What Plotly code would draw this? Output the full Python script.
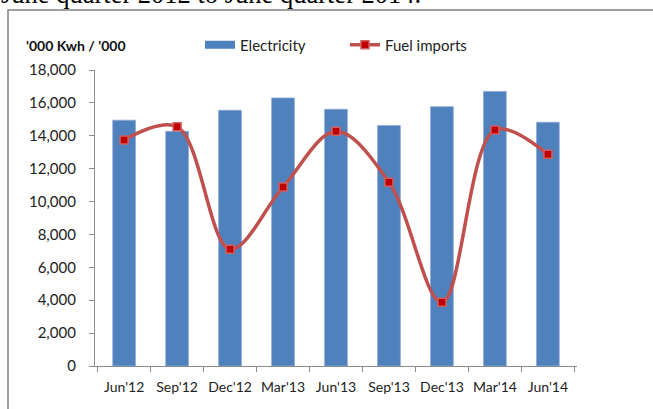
import plotly.graph_objects as go

categories = ["Jun'12", "Sep'12", "Dec'12", "Mar'13", "Jun'13", "Sep'13", "Dec'13", "Mar'14", "Jun'14"]
electricity = [14950, 14270, 15550, 16300, 15610, 14620, 15770, 16700, 14820]
fuel_imports = [13750, 14550, 7100, 10880, 14270, 11170, 3870, 14350, 12870]
y_ticks = [0, 2000, 4000, 6000, 8000, 10000, 12000, 14000, 16000, 18000]

W, H = 653, 409
L, R, T, B = 95, 76, 70, 43
PW, PH = W - L - R, H - T - B


def px(x):
    return (x - L) / PW


def py(y):
    return (H - B - y) / PH


font_main = "Lato, 'Open Sans', sans-serif"
blue = "#4F81BD"

fig = go.Figure()
fig.add_trace(go.Bar(
    x=categories, y=electricity, name="Electricity", showlegend=False,
    legendgroup="elec",
    marker=dict(color=blue, line=dict(color="#8EAADB", width=0.8)),
    width=0.43,
))
# legend entry for bars (wide rectangle like the original)
fig.add_trace(go.Scatter(
    x=[None], y=[None], mode="lines", name="Electricity", legendgroup="elec",
    line=dict(color=blue, width=8),
))
fig.add_trace(go.Scatter(
    x=categories, y=fuel_imports, name="Fuel imports", mode="lines+markers",
    line=dict(color="#C0504D", width=3.5, shape="spline", smoothing=1.0),
    marker=dict(symbol="square", size=8, color="#C00000", line=dict(color="#D06060", width=1.5)),
))

fig.update_layout(
    width=W, height=H,
    margin=dict(l=L, r=R, t=T, b=B, autoexpand=False),
    paper_bgcolor="white", plot_bgcolor="white",
    font=dict(family=font_main, size=15, color="#222"),
    showlegend=True,
    legend=dict(orientation="h", x=px(200), y=py(45), xanchor="left", yanchor="middle",
                font=dict(size=15, color="#222"), bgcolor="rgba(0,0,0,0)",
                entrywidth=100, traceorder="normal"),
    xaxis=dict(
        showline=True, linecolor="#8c8c8c", linewidth=1.2,
        ticks="outside", ticklen=5, tickcolor="#8c8c8c", tickson="boundaries",
        tickangle=0, ticklabelstandoff=8,
        showgrid=False, tickfont=dict(size=14, color="#222"),
    ),
    yaxis=dict(
        range=[0, 18000], tickvals=y_ticks, tickformat=",d",
        showline=True, linecolor="#8c8c8c", linewidth=1.2,
        ticks="outside", ticklen=5, tickcolor="#8c8c8c", ticklabelstandoff=10,
        showgrid=False, zeroline=False, tickfont=dict(size=15, color="#222"),
    ),
    shapes=[dict(type="rect", xref="paper", yref="paper",
                 x0=px(8), x1=px(720), y0=py(10), y1=py(460),
                 line=dict(color="#808080", width=1.5), fillcolor="rgba(0,0,0,0)", layer="below")],
    annotations=[
        dict(text="<b>'000 Kwh / '000</b>", xref="paper", yref="paper", x=px(24), y=py(45),
             xanchor="left", yanchor="middle", showarrow=False, font=dict(size=14, color="#111")),
        dict(text="June quarter 2012 to June quarter 2014.", xref="paper", yref="paper",
             x=px(-1), y=py(11), xanchor="left", yanchor="bottom", showarrow=False,
             font=dict(family="'Liberation Serif', serif", size=26.5, color="#000")),
    ],
)

fig.write_html("out.html", config={"displayModeBar": False},
               post_script="document.body.style.margin='0';document.body.style.overflow='hidden';")
